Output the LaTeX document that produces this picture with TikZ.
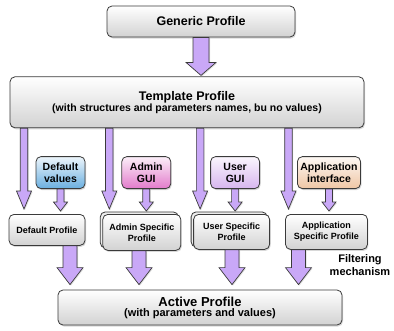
\documentclass[tikz,border=0pt]{standalone}
\usepackage{fontspec}
\setmainfont{Liberation Sans}
\usetikzlibrary{positioning,calc,shadows}
\definecolor{colEdge}{HTML}{3A3A3A}
\definecolor{colArrow}{HTML}{C9A8F7}
\definecolor{colGrey}{HTML}{D2D2D2}
\definecolor{colDef}{HTML}{6AAFE0}
\definecolor{colAdm}{HTML}{E27BCB}
\definecolor{colUsr}{HTML}{D7B6EE}
\definecolor{colApp}{HTML}{EFC6A4}
\tikzset{
  pbox/.style={draw=colEdge,line width=0.8pt,rounded corners=5pt,top color=white,
    bottom color=colGrey,align=center,inner sep=2pt,
    drop shadow={shadow xshift=1pt,shadow yshift=-1.5pt,opacity=0.3}},
  gbox/.style={pbox,top color=#1!12,bottom color=#1,minimum width=49pt,minimum height=32pt,
    inner xsep=3pt,font=\fontsize{10.5}{12}\selectfont\bfseries},
  sbox/.style={pbox,minimum height=35pt,font=\fontsize{9}{11}\selectfont\bfseries},
  stack/.style={copy shadow={shadow xshift=-2.5pt,shadow yshift=2.5pt,fill=colGrey!40,
    draw=colEdge,line width=0.8pt}},
  barr/.style n args={4}{draw=colEdge,line width=0.7pt,fill=colArrow,
    drop shadow={shadow xshift=1pt,shadow yshift=-1pt,opacity=0.25},
    to path={let \p1=(\tikztostart),\p2=(\tikztotarget) in
      (\x2-#1,\y1) -- (\x2-#1,\y2+#3+#4) -- (\x2-#2,\y2+#3+#4) -- (\x2,\y2+#4)
      -- (\x2+#2,\y2+#3+#4) -- (\x2+#1,\y2+#3+#4) -- (\x2+#1,\y1) -- cycle}},
}

\begin{document}
\begin{tikzpicture}[x=1pt,y=-1pt]
  \fill[white] (0,0) rectangle (394,330);
  \useasboundingbox (0,0) rectangle (394,330);
  \node[pbox,minimum width=188pt,minimum height=31pt,font=\fontsize{12.5}{15}\selectfont\bfseries]
    (gen) at (201,21.5) {Generic Profile};
  \node[pbox,minimum width=354pt,minimum height=51pt,below=39pt of gen,xshift=-14pt] (tpl)
    {{\fontsize{12.5}{15}\selectfont\bfseries Template Profile}\\[-1pt]
     {\fontsize{10.5}{12}\selectfont\bfseries (with structures and parameters names, bu no values)}};
  % sources of values
  \node[gbox=colDef,below right=28pt and 26pt of tpl.south west] (dv) {Default\\values};
  \node[gbox=colAdm,right=36pt of dv] (ag) {Admin\\GUI};
  \node[gbox=colUsr,right=39pt of ag] (ug) {User\\GUI};
  \node[gbox=colApp,right=37pt of ug] (ai) {Application\\interface};
  % specific profiles
  \node[sbox,minimum width=76pt,minimum height=31pt,below left=25pt and 0pt of dv.south east] (dp)
    {Default Profile};
  \node[sbox,stack,minimum width=78pt,minimum height=36pt,below=25pt of ag,xshift=-4.5pt] (as)
    {Admin Specific\\Profile};
  \node[sbox,stack,minimum width=76pt,below=25pt of ug,xshift=-3.5pt] (us)
    {User Specific\\Profile};
  \node[sbox,minimum width=82pt,below=25pt of ai,xshift=-2.5pt] (asp)
    {Application\\Specific Profile};
  \node[pbox,minimum width=284pt,minimum height=35pt] (act) at (200,307.5)
    {{\fontsize{13}{15}\selectfont\bfseries Active Profile}\\[-2pt]
     {\fontsize{11}{12}\selectfont\bfseries (with parameters and values)}};
  \node[align=center,font=\fontsize{11}{12.5}\selectfont\bfseries] (filt) at (360,265)
    {Filtering\\mechanism};
  % arrows
  \draw[barr={8pt}{15pt}{13pt}{1pt}] (gen.south) to (tpl.north -| gen.south);
  \draw[barr={3.75pt}{7.5pt}{18pt}{5pt}] (tpl.south) to ([xshift=-23pt]dp.north);
  \draw[barr={3.75pt}{7.5pt}{18pt}{5pt}] (tpl.south) to ([xshift=-32.5pt]as.north);
  \draw[barr={3.75pt}{7.5pt}{18pt}{5pt}] (tpl.south) to ([xshift=-31.5pt]us.north);
  \draw[barr={3.75pt}{7.5pt}{18pt}{5pt}] (tpl.south) to ([xshift=-38pt]asp.north);
  \draw[barr={3.5pt}{7pt}{9pt}{3pt}] (dv.south) to (dp.north -| dv.south);
  \draw[barr={3.5pt}{7pt}{9pt}{3pt}] (ag.south) to (as.north -| ag.south);
  \draw[barr={3.5pt}{7pt}{9pt}{3pt}] (ug.south) to (us.north -| ug.south);
  \draw[barr={3.5pt}{7pt}{9pt}{3pt}] (ai.south) to (asp.north -| ai.south);
  \draw[barr={7pt}{13pt}{17pt}{5pt}] (dp.south) to ([xshift=-130pt]act.north);
  \draw[barr={7pt}{13pt}{17pt}{5pt}] (as.south) to ([xshift=-61pt]act.north);
  \draw[barr={7pt}{13pt}{17pt}{5pt}] (us.south) to ([xshift=32pt]act.north);
  \draw[barr={7pt}{13pt}{17pt}{5pt}] (asp.south) to ([xshift=98.5pt]act.north);
\end{tikzpicture}
\end{document}
